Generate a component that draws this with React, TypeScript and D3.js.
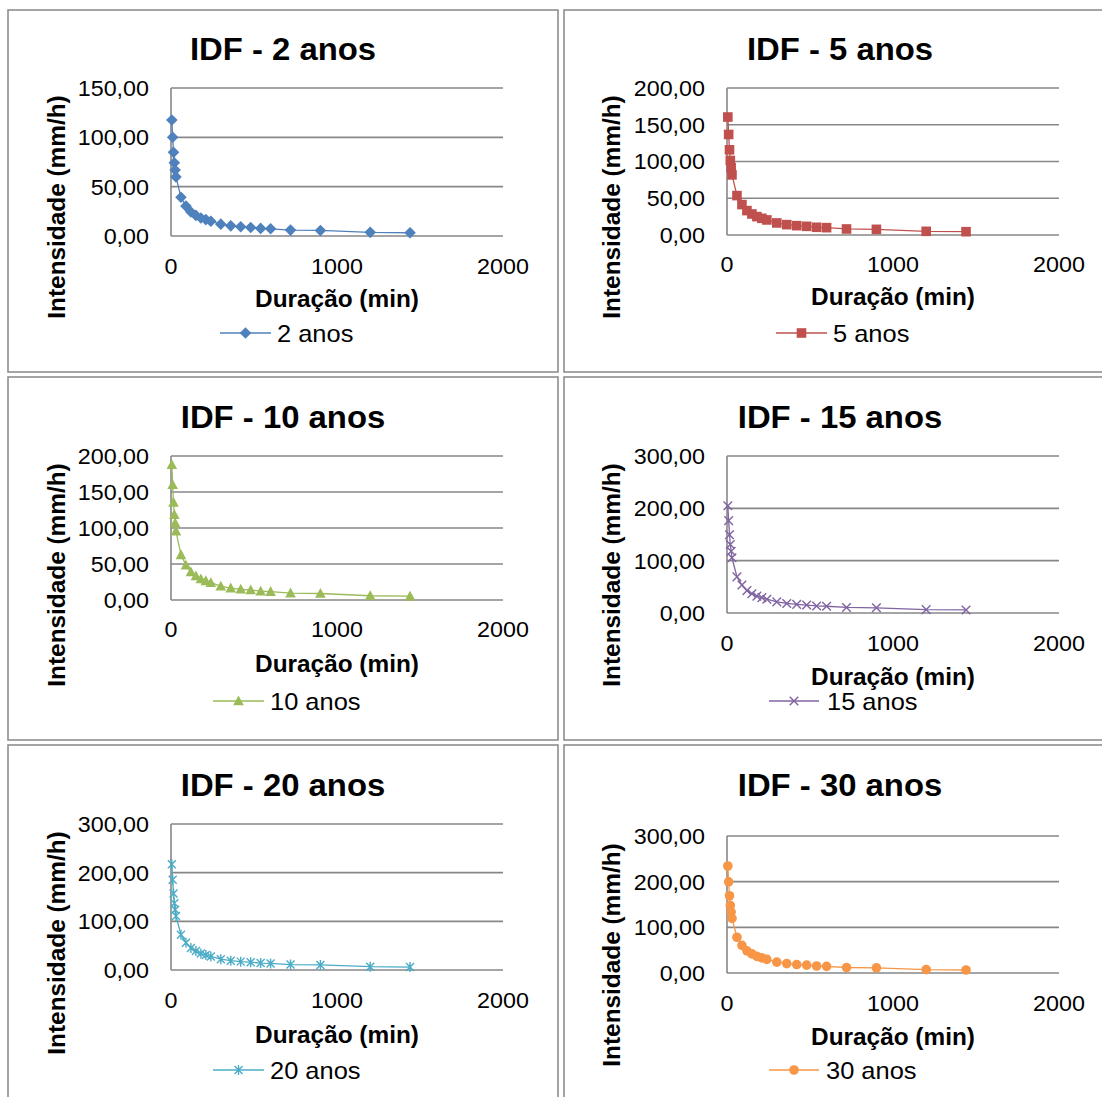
import React from "react";
import * as d3 from "d3";

// ---- data ----
const durations = [5, 10, 15, 20, 25, 30, 60, 90, 120, 150, 180, 210, 240, 300, 360, 420, 480, 540, 600, 720, 900, 1200, 1440];
const xTicks = [0, 1000, 2000];

const i2anos = [117.5, 100.1, 84.8, 74.2, 66.9, 59.9, 39.2, 30.3, 24.3, 20.9, 18.3, 16.6, 15.0, 12.0, 10.3, 9.3, 8.6, 7.7, 7.3, 6.0, 5.6, 3.7, 3.3];
const i5anos = [160.5, 136.8, 115.9, 101.4, 91.4, 81.8, 53.6, 41.4, 33.2, 28.6, 25.0, 22.7, 20.5, 16.4, 14.1, 12.7, 11.8, 10.5, 10.0, 8.2, 7.7, 5.0, 4.5];
const i10anos = [187.8, 160.1, 135.6, 118.6, 106.9, 95.7, 62.7, 48.4, 38.8, 33.5, 29.3, 26.6, 24.0, 19.2, 16.5, 14.9, 13.8, 12.3, 11.7, 9.6, 9.0, 5.9, 5.3];
const i15anos = [205.0, 176.5, 149.5, 130.8, 117.9, 105.5, 69.1, 53.4, 42.8, 36.9, 32.3, 29.3, 26.4, 21.2, 18.2, 16.4, 15.2, 13.5, 12.9, 10.6, 9.9, 6.5, 5.8];
const i20anos = [217.5, 185.4, 157.0, 137.4, 123.8, 110.8, 72.6, 56.1, 45.0, 38.8, 33.9, 30.8, 27.8, 22.2, 19.1, 17.2, 16.0, 14.2, 13.6, 11.1, 10.4, 6.8, 6.1];
const i30anos = [234.3, 199.7, 169.2, 148.0, 133.4, 119.4, 78.3, 60.4, 48.5, 41.8, 36.5, 33.1, 29.9, 23.9, 20.6, 18.5, 17.2, 15.3, 14.6, 12.0, 11.2, 7.3, 6.6];

const seriesNames = ["2 anos", "5 anos", "10 anos", "15 anos", "20 anos", "30 anos"];
const seriesValues = [i2anos, i5anos, i10anos, i15anos, i20anos, i30anos];
const yTickValues = [
  [0, 50, 100, 150],
  [0, 50, 100, 150, 200],
  [0, 50, 100, 150, 200],
  [0, 100, 200, 300],
  [0, 100, 200, 300],
  [0, 100, 200, 300],
];
const xTitle = "Duração (min)";
const yTitle = "Intensidade (mm/h)";

// ---- styles / layout ----
const colors = ["#4F81BD", "#C0504D", "#9BBB59", "#8064A2", "#4BACC6", "#F79646"];
const markers = ["diamond", "square", "triangle", "x", "star", "circle"];

const layouts = [
  { bx: 8, by: 10, bw: 550, bh: 362, cx: 283, titleY: 60, px0: 171, px1: 503, py0: 88, py1: 236, xLabY: 274, xTitleY: 307, legY: 333, legX1: 220, legX2: 271, legTextX: 277, yTitleX: 57, yTitleY: 207, yLabX: 149 },
  { bx: 564, by: 10, bw: 552, bh: 362, cx: 840, titleY: 60, px0: 727, px1: 1059, py0: 88, py1: 235, xLabY: 272, xTitleY: 305, legY: 333, legX1: 776, legX2: 827, legTextX: 833, yTitleX: 612, yTitleY: 207, yLabX: 705 },
  { bx: 8, by: 377, bw: 550, bh: 363, cx: 283, titleY: 428, px0: 171, px1: 503, py0: 456, py1: 600, xLabY: 637, xTitleY: 672, legY: 701, legX1: 213, legX2: 264, legTextX: 270, yTitleX: 57, yTitleY: 575, yLabX: 149 },
  { bx: 564, by: 377, bw: 552, bh: 363, cx: 840, titleY: 428, px0: 727, px1: 1059, py0: 456, py1: 613, xLabY: 651, xTitleY: 685, legY: 701, legX1: 769, legX2: 819, legTextX: 827, yTitleX: 612, yTitleY: 575, yLabX: 705 },
  { bx: 8, by: 745, bw: 550, bh: 362, cx: 283, titleY: 796, px0: 171, px1: 503, py0: 824, py1: 970, xLabY: 1008, xTitleY: 1043, legY: 1070, legX1: 213, legX2: 264, legTextX: 270, yTitleX: 57, yTitleY: 943, yLabX: 149 },
  { bx: 564, by: 745, bw: 552, bh: 362, cx: 840, titleY: 796, px0: 727, px1: 1059, py0: 836, py1: 973, xLabY: 1011, xTitleY: 1045, legY: 1070, legX1: 769, legX2: 819, legTextX: 826, yTitleX: 612, yTitleY: 955, yLabX: 705 },
];

const FONT = "'Liberation Sans', Arial, Helvetica, sans-serif";
const GRID = "#878787";
const STRETCH = 1.06;

const ptLocale = d3.formatLocale({ decimal: ",", thousands: ".", grouping: [3], currency: ["R$", ""] });
const fmtY = ptLocale.format(".2f");
const fmtX = d3.format("d");

function T({
  x,
  y,
  rotate = 0,
  anchor = "start",
  size,
  bold = false,
  dy,
  children,
}: {
  x: number;
  y: number;
  rotate?: number;
  anchor?: string;
  size: number;
  bold?: boolean;
  dy?: string;
  children: React.ReactNode;
}) {
  return (
    <text
      transform={`translate(${x},${y}) rotate(${rotate}) scale(${STRETCH},1)`}
      textAnchor={anchor}
      dy={dy}
      fontFamily={FONT}
      fontWeight={bold ? "bold" : "normal"}
      fontSize={size}
      fill="#000"
    >
      {children}
    </text>
  );
}

function Marker({ kind, x, y, color }: { kind: string; x: number; y: number; color: string }) {
  if (kind === "diamond") {
    const r = 5.8;
    return <path d={`M${x},${y - r}L${x + r},${y}L${x},${y + r}L${x - r},${y}Z`} fill={color} />;
  }
  if (kind === "square") {
    const s = 9.6;
    return <rect x={x - s / 2} y={y - s / 2} width={s} height={s} fill={color} />;
  }
  if (kind === "triangle") {
    return <path d={`M${x},${y - 5.5}L${x + 5.3},${y + 4.3}L${x - 5.3},${y + 4.3}Z`} fill={color} />;
  }
  if (kind === "x") {
    const r = 4.3;
    return (
      <path d={`M${x - r},${y - r}L${x + r},${y + r}M${x - r},${y + r}L${x + r},${y - r}`} stroke={color} strokeWidth={1.4} fill="none" />
    );
  }
  if (kind === "star") {
    const r = 4;
    return (
      <path
        d={`M${x - r},${y - r}L${x + r},${y + r}M${x - r},${y + r}L${x + r},${y - r}M${x},${y - r - 1}L${x},${y + r + 1}`}
        stroke={color}
        strokeWidth={1.4}
        fill="none"
      />
    );
  }
  return <circle cx={x} cy={y} r={4.8} fill={color} />;
}

function Panel({ idx }: { idx: number }) {
  const L = layouts[idx];
  const values = seriesValues[idx];
  const yTicks = yTickValues[idx];
  const color = colors[idx];
  const kind = markers[idx];
  const x = d3.scaleLinear().domain([xTicks[0], xTicks[xTicks.length - 1]]).range([L.px0, L.px1]);
  const y = d3.scaleLinear().domain([0, yTicks[yTicks.length - 1]]).range([L.py1, L.py0]);
  const pts = durations.map((d, i) => [x(d), y(values[i])] as [number, number]);
  const line = d3.line();
  const legMid = (L.legX1 + L.legX2) / 2;
  return (
    <g>
      <rect x={L.bx} y={L.by} width={L.bw} height={L.bh} fill="#fff" stroke="#8e8e8e" strokeWidth={1.6} />
      <T x={L.cx} y={L.titleY} anchor="middle" size={31} bold>
        {`IDF - ${seriesNames[idx]}`}
      </T>
      {yTicks.map((t) => (
        <g key={t}>
          <line x1={L.px0} x2={L.px1} y1={y(t)} y2={y(t)} stroke={GRID} strokeWidth={1.6} />
          <T x={L.yLabX} y={y(t)} dy="0.36em" anchor="end" size={22}>
            {fmtY(t)}
          </T>
        </g>
      ))}
      <line x1={L.px0} x2={L.px0} y1={L.py0} y2={L.py1} stroke={GRID} strokeWidth={1.6} />
      {xTicks.map((t) => (
        <T key={t} x={x(t)} y={L.xLabY} anchor="middle" size={22}>
          {fmtX(t)}
        </T>
      ))}
      <T x={(L.px0 + L.px1) / 2} y={L.xTitleY} anchor="middle" size={23} bold>
        {xTitle}
      </T>
      <T x={L.yTitleX} y={L.yTitleY} rotate={-90} anchor="middle" dy="0.36em" size={23} bold>
        {yTitle}
      </T>
      <path d={line(pts) || ""} fill="none" stroke={color} strokeWidth={1.3} />
      {pts.map((p, i) => (
        <Marker key={i} kind={kind} x={p[0]} y={p[1]} color={color} />
      ))}
      <line x1={L.legX1} x2={L.legX2} y1={L.legY} y2={L.legY} stroke={color} strokeWidth={1.3} />
      <Marker kind={kind} x={legMid} y={L.legY} color={color} />
      <T x={L.legTextX} y={L.legY} dy="0.36em" size={24}>
        {seriesNames[idx]}
      </T>
    </g>
  );
}

export default function App() {
  return (
    <div style={{ position: "absolute", left: 0, top: 0, width: 1102, height: 1097, overflow: "hidden", background: "#fff" }}>
      <svg width={1102} height={1097} viewBox="0 0 1102 1097" style={{ display: "block" }}>
        <rect x={0} y={0} width={1102} height={1097} fill="#fff" />
        {seriesNames.map((_, i) => (
          <Panel key={i} idx={i} />
        ))}
      </svg>
    </div>
  );
}
